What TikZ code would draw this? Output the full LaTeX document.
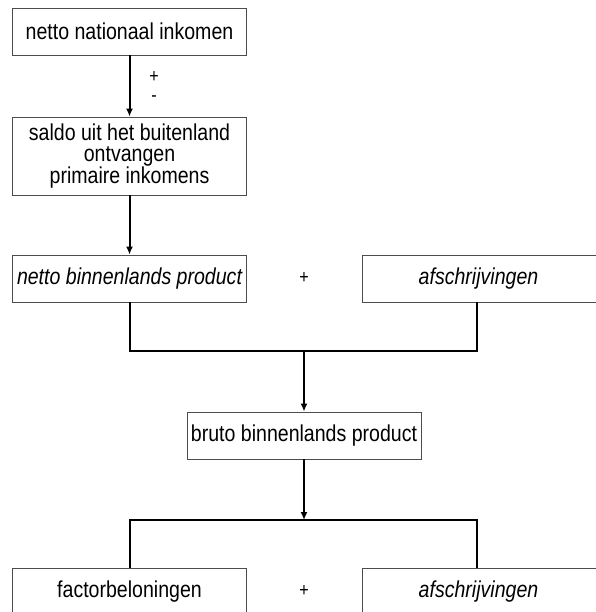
\documentclass[tikz,border=0pt]{standalone}
\usepackage{fontspec}
\setmainfont{Liberation Sans}[FakeStretch=0.85]
\usetikzlibrary{arrows.meta}
\begin{document}
\begin{tikzpicture}[x=1pt,y=-1pt,
  box/.style={draw=black!70, line width=0.9pt, fill=white, inner sep=0pt,
    minimum height=47pt, align=center, font=\fontsize{23}{21}\selectfont},
  conn/.style={line width=2pt, black},
  arr/.style={conn, -{Latex[length=8pt,width=7pt]}},
  sign/.style={inner sep=0pt, font=\fontsize{19}{20}\selectfont}]
\useasboundingbox (0,0) rectangle (595,612);
\node[box, minimum width=234pt] (nni) at (129.5,31.5) {netto nationaal inkomen};
\node[box, minimum width=234pt, minimum height=78pt] (sbl) at (129.5,156)
  {saldo uit het buitenland\\ontvangen\\primaire inkomens};
\node[box, minimum width=234pt] (nbp) at (129.5,278.5) {\itshape netto binnenlands product};
\node[box, minimum width=236pt] (afs1) at (480,278.5) {\itshape\hspace*{-3pt}afschrijvingen};
\node[box, minimum width=234pt] (bbp) at (304,435.5) {bruto binnenlands product};
\node[box, minimum width=234pt] (fb) at (129.5,591.5) {factorbeloningen};
\node[box, minimum width=236pt] (afs2) at (480,591.5) {\itshape\hspace*{-3pt}afschrijvingen};
\node[sign] (p1) at (154,77) {+};
\node[sign] (m1) at (154,99) {-};
\node[sign] (p2) at (304,278) {+};
\node[sign] (p3) at (304,591) {+};
\coordinate (j1) at (304,351);
\coordinate (j2) at (304,520);
\draw[arr] (nni.south) -- (sbl.north);
\draw[arr] (sbl.south) -- (nbp.north);
\draw[conn] (nbp.south) |- (j1) -| (afs1.south -| 477,0);
\draw[arr] (j1) -- (bbp.north);
\draw[arr] (bbp.south) -- (j2);
\draw[conn] (fb.north) |- (j2) -| (afs2.north -| 477,0);
\end{tikzpicture}
\end{document}
